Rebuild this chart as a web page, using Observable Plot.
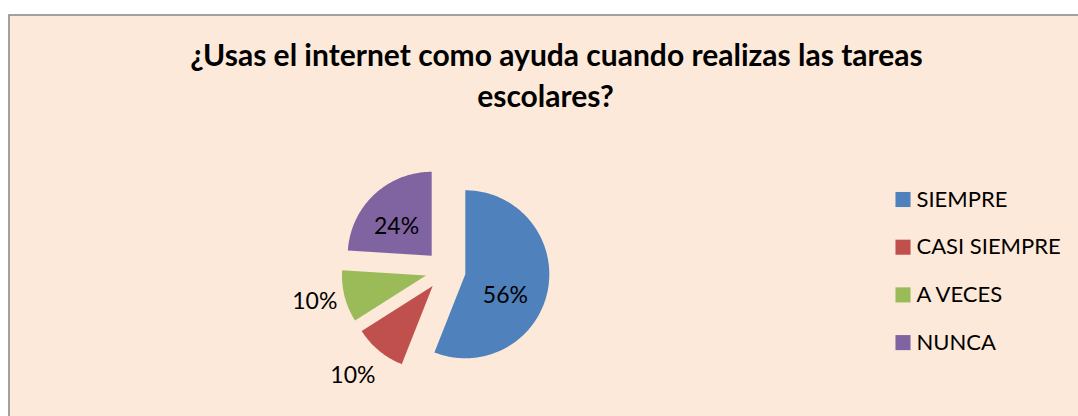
<!DOCTYPE html>
<html>
<head>
<meta charset="utf-8">
<script src="https://cdn.jsdelivr.net/npm/d3@7"></script>
<script src="https://cdn.jsdelivr.net/npm/@observablehq/plot@0.6"></script>
<style>
  html, body { margin: 0; padding: 0; background: #ffffff; }
  svg { display: block; }
</style>
</head>
<body>
<div id="chart"></div>
<script>
// ---- data ----
const categories = ["SIEMPRE", "CASI SIEMPRE", "A VECES", "NUNCA"];
const percents = [56, 10, 10, 24];
const percentLabels = ["56%", "10%", "10%", "24%"];
const colors = ["#4F81BD", "#C0504D", "#9BBB59", "#8064A2"];
const titleLines = ["¿Usas el internet como ayuda cuando realizas las tareas", "escolares?"];

// ---- layout ----
const W = 1078, H = 416;
const cx = 445, cy = 270, R = 84;        // pie center / radius in px
const explode = 0.24;                     // explosion as fraction of radius
// label placement: radial distance (in radii, from exploded vertex) and angle offset (deg)
const labelPlace = {
  "SIEMPRE": {r: 0.54, da: 17},
  "CASI SIEMPRE": {r: 1.43, da: 2},
  "A VECES": {r: 1.36, da: 1},
  "NUNCA": {r: 0.545, da: -7}
};
const ux = px => (px - cx) / R;
const uy = py => (cy - py) / R;
const FONT = "Lato, 'Open Sans', sans-serif";

// ---- pie geometry from data ----
const table = categories.map((c, i) => ({category: c, value: percents[i], label: percentLabels[i]}));
const arcs = d3.pie().sort(null).value(d => d.value)(table);
const pts = [];
const labels = [];
for (const a of arcs) {
  const mid = (a.startAngle + a.endAngle) / 2;
  const ox = explode * Math.sin(mid), oy = explode * Math.cos(mid);
  const key = a.data.category;
  pts.push({category: key, x: ox, y: oy});
  const n = Math.max(8, Math.ceil((a.endAngle - a.startAngle) * 60));
  for (let k = 0; k <= n; k++) {
    const t = a.startAngle + (a.endAngle - a.startAngle) * k / n;
    pts.push({category: key, x: ox + Math.sin(t), y: oy + Math.cos(t)});
  }
  pts.push({category: key, x: ox, y: oy});
  const lp = labelPlace[key];
  const la = mid + lp.da * Math.PI / 180;
  labels.push({category: key, label: a.data.label, x: ox + lp.r * Math.sin(la), y: oy + lp.r * Math.cos(la)});
}

// legend rows
const legendRows = categories.map((c, i) => ({category: c, x: ux(902.5), tx: ux(916), y: uy(199 + i * 47.7)}));

const chart = Plot.plot({
  width: W,
  height: H,
  marginLeft: 8.5,
  marginTop: 14.5,
  marginRight: -4,
  marginBottom: -4,
  style: {background: "#ffffff", fontFamily: FONT, overflow: "hidden"},
  x: {domain: [-1, 1], range: [cx - R, cx + R], axis: null},
  y: {domain: [-1, 1], range: [cy + R, cy - R], axis: null},
  color: {domain: categories, range: colors},
  marks: [
    Plot.frame({fill: "#FDE9D9", stroke: "#8C8C8C", strokeWidth: 1.6}),
    Plot.line(pts, {x: "x", y: "y", z: "category", fill: "category", stroke: null, curve: "linear"}),
    Plot.text(labels, {x: "x", y: "y", text: "label", fontSize: 23, fill: "#000000", fontFamily: FONT}),
    Plot.dot(legendRows, {x: "x", y: "y", symbol: "square", r: 8.5, fill: "category", stroke: null}),
    Plot.text(legendRows, {x: "tx", y: "y", text: "category", textAnchor: "start", fontSize: 22, fill: "#000000", fontFamily: FONT}),
    Plot.text([titleLines[0]], {x: ux(556), y: uy(56), text: d => d, fontSize: 30, fontWeight: "bold", fill: "#000000", fontFamily: FONT}),
    Plot.text([titleLines[1]], {x: ux(545), y: uy(97), text: d => d, fontSize: 30, fontWeight: "bold", fill: "#000000", fontFamily: FONT})
  ]
});
document.getElementById("chart").appendChild(chart);
</script>
</body>
</html>
